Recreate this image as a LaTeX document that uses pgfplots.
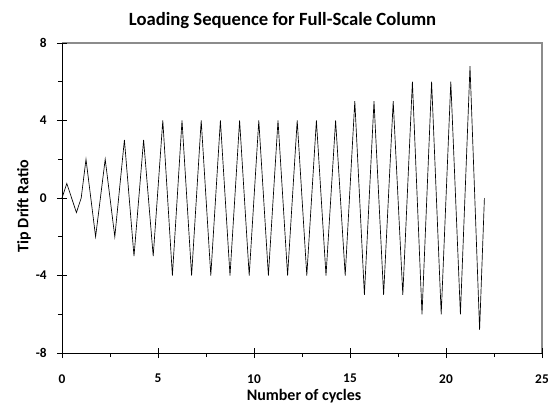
\documentclass[border=0pt]{standalone}
\usepackage{fontspec}
\setmainfont{Carlito}
\usepackage{pgfplots}
\pgfplotsset{compat=1.18}

\begin{document}
\begin{tikzpicture}
    \useasboundingbox (0,0) rectangle (416.25pt,309pt);
    % gray plot-area border at top and right
    \draw[black!45, line width=1pt]
        (46.5pt,276.75pt) -- (406.5pt,276.75pt) -- (406.5pt,44.25pt);
    \begin{axis}[
        name=ax,
        at={(46.5pt,44.25pt)}, anchor=south west,
        scale only axis,
        width=360pt, height=232.5pt,
        xmin=0, xmax=25,
        ymin=-8, ymax=8,
        xtick={0,5,10,15,20,25},
        ytick={-8,-4,0,4,8},
        minor x tick num=1,
        minor y tick num=1,
        axis lines*=left,
        axis line style={-, black, line width=0.75pt},
        tick align=center,
        major tick length=7.5pt,
        minor tick length=3pt,
        every tick/.style={black, line width=0.6pt},
        minor x tick style={yshift=-1.5pt},
        minor y tick style={xshift=-1.5pt},
        /pgf/number format/assume math mode=true,
        ticklabel style={font=\bfseries\fontsize{10}{12}\selectfont, inner sep=0pt},
        xticklabel shift=12pt,
        yticklabel shift=7.5pt,
        clip=false,
    ]
        % loading history
        \addplot[black, line width=0.5pt, mark=none] coordinates {
            (0,0) (0.25,0.75) (0.75,-0.75) (1,0)
            (1.25,2) (1.75,-2) (2.25,2) (2.75,-2)
            (3.25,3) (3.75,-3) (4.25,3) (4.75,-3)
            (5.25,4) (5.75,-4) (6.25,4) (6.75,-4) (7.25,4) (7.75,-4)
            (8.25,4) (8.75,-4) (9.25,4) (9.75,-4) (10.25,4) (10.75,-4)
            (11.25,4) (11.75,-4) (12.25,4) (12.75,-4) (13.25,4) (13.75,-4)
            (14.25,4) (14.75,-4)
            (15.25,5) (15.75,-5) (16.25,5) (16.75,-5) (17.25,5) (17.75,-5)
            (18.25,6) (18.75,-6) (19.25,6) (19.75,-6) (20.25,6) (20.75,-6)
            (21.25,6.8) (21.75,-6.8) (22,0)
        };
    \end{axis}
    \node[font=\bfseries\fontsize{14}{17}\selectfont] at (211.9pt,293.25pt) {Loading Sequence for Full-Scale Column};
    \node[font=\bfseries\fontsize{12}{14}\selectfont] at (228pt,11.6pt) {Number of cycles};
    \node[font=\bfseries\fontsize{12}{14}\selectfont, rotate=90] at (18pt,154.5pt) {Tip Drift Ratio};
\end{tikzpicture}
\end{document}
